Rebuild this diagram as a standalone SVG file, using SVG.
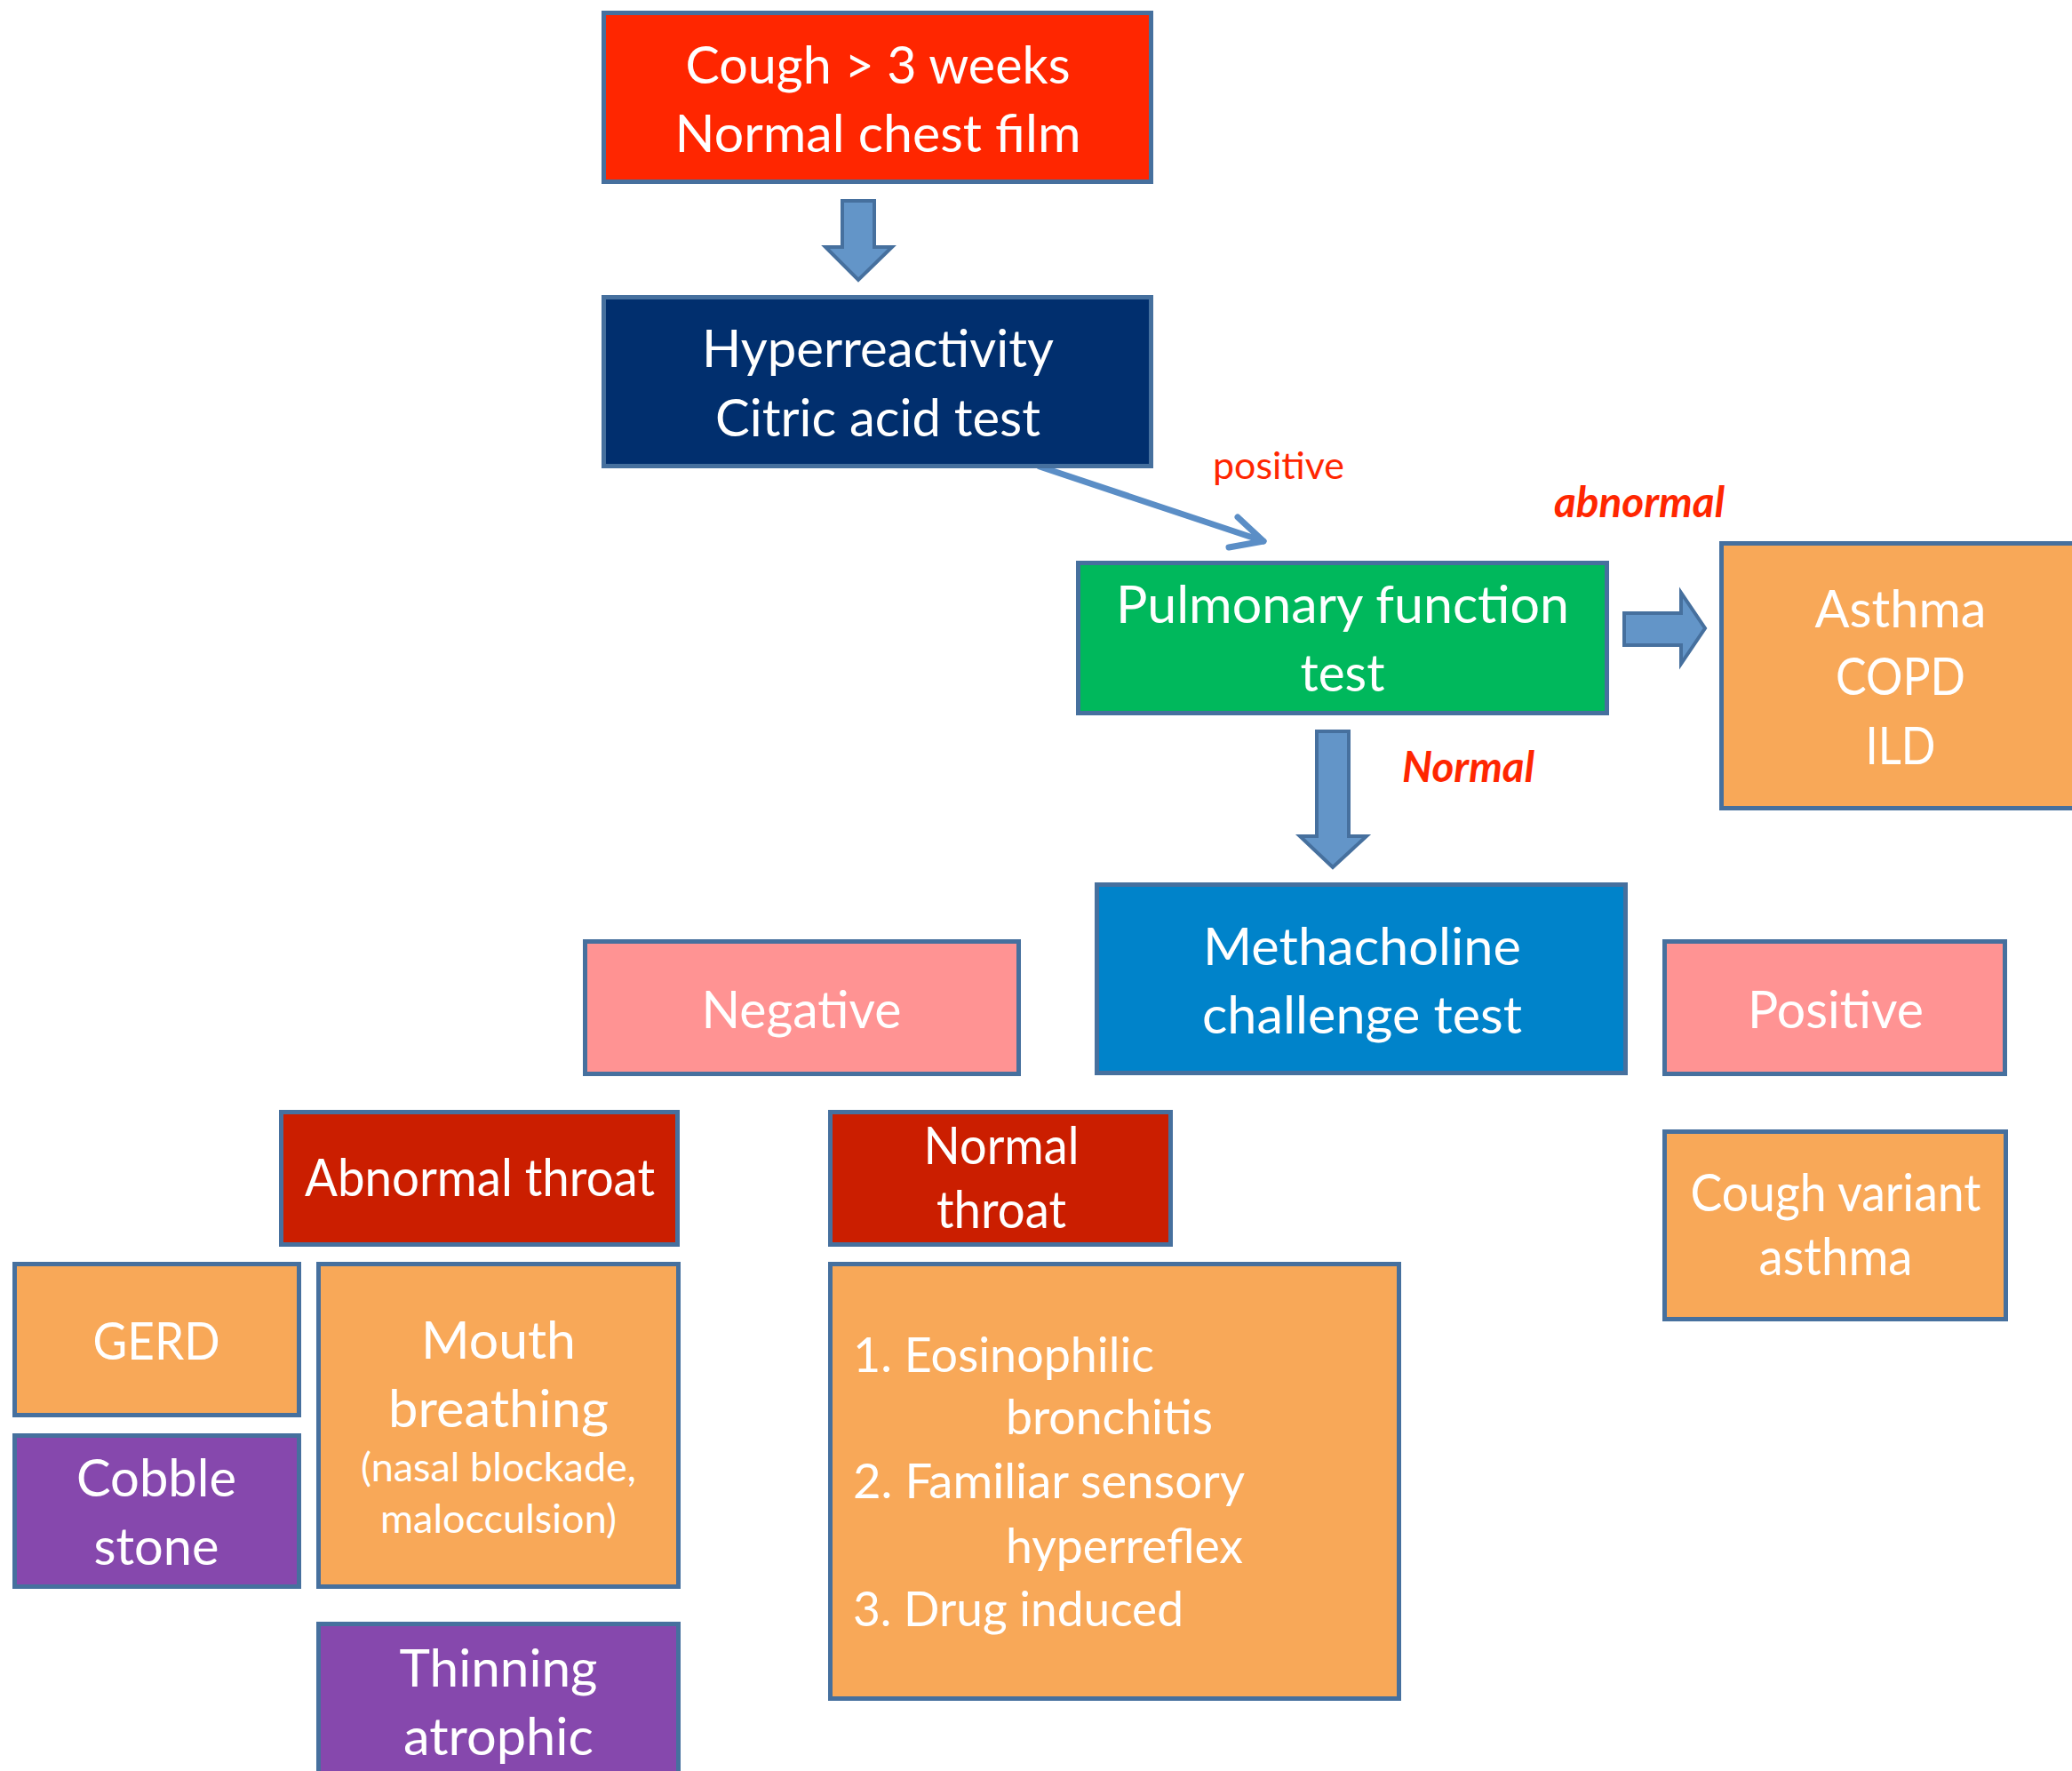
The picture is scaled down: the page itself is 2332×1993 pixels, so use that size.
<svg xmlns="http://www.w3.org/2000/svg" width="2332" height="1993" viewBox="0 0 2332 1993">
<style>
.box{stroke:#46709E;stroke-width:5}
.t{font-family:Lato,"Open Sans","Liberation Sans",sans-serif;fill:#FFFFFF;font-size:58px;text-anchor:middle}
.s{font-size:45px}
.l{font-family:Lato,"Open Sans","Liberation Sans",sans-serif;fill:#FFFFFF;font-size:54.5px}
.lab{font-family:Lato,"Open Sans","Liberation Sans",sans-serif;fill:#FF2600;font-size:43px}
.bi{font-weight:bold;font-style:italic;font-size:47px}
.blk{fill:#6395C8;stroke:#46709E;stroke-width:4;stroke-linejoin:miter}
.red{fill:#FF2600}.navy{fill:#012F6E}.green{fill:#00B85C}.blue{fill:#0083CA}
.pink{fill:#FF9393}.dred{fill:#CB1E00}.orange{fill:#F8A858}.purple{fill:#8648AD}
</style>
<rect width="2332" height="1993" fill="#FFFFFF"/>
<g id="connectors">
  <polygon class="blk" points="948,226 984,226 984,278 1004,278 966,315 929,278 948,278"/>
  <polygon class="blk" points="1482,823 1518,823 1518,941 1538,941 1500,976 1463,941 1482,941"/>
  <polygon class="blk" points="1828,690 1892,690 1892,667 1919,707 1892,747 1892,726 1828,726"/>
  <g fill="none" stroke="#5B8EC6" stroke-width="7" stroke-linecap="round" stroke-linejoin="round">
    <line x1="1170" y1="525" x2="1422" y2="609"/>
    <polyline points="1393,582 1422,609 1383,616"/>
  </g>
  <text class="lab" x="1365" y="539" textLength="148" lengthAdjust="spacingAndGlyphs">positive</text>
  <text class="lab bi" x="1749" y="582" textLength="192" lengthAdjust="spacingAndGlyphs">abnormal</text>
  <text class="lab bi" x="1578" y="880" textLength="149" lengthAdjust="spacingAndGlyphs">Normal</text>
</g>
<g id="cough">
  <rect class="box red" x="679.5" y="14.5" width="616" height="190"/>
  <text class="t" x="988" y="94" textLength="433" lengthAdjust="spacingAndGlyphs">Cough &gt; 3 weeks</text>
  <text class="t" x="988" y="171" textLength="457" lengthAdjust="spacingAndGlyphs">Normal chest film</text>
</g>
<g id="hyper">
  <rect class="box navy" x="679.5" y="334.5" width="616" height="190"/>
  <text class="t" x="988" y="413" textLength="396" lengthAdjust="spacingAndGlyphs">Hyperreactivity</text>
  <text class="t" x="988" y="491" textLength="366" lengthAdjust="spacingAndGlyphs">Citric acid test</text>
</g>
<g id="pft">
  <rect class="box green" x="1213.5" y="633.5" width="595" height="169"/>
  <text class="t" x="1511" y="701" textLength="510" lengthAdjust="spacingAndGlyphs">Pulmonary function</text>
  <text class="t" x="1511" y="778" textLength="95" lengthAdjust="spacingAndGlyphs">test</text>
</g>
<g id="asthma">
  <rect class="box orange" x="1937.5" y="611.5" width="410" height="298"/>
  <text class="t" x="2139" y="706" textLength="193" lengthAdjust="spacingAndGlyphs">Asthma</text>
  <text class="t" x="2139" y="782" textLength="146" lengthAdjust="spacingAndGlyphs">COPD</text>
  <text class="t" x="2139" y="860" textLength="79" lengthAdjust="spacingAndGlyphs">ILD</text>
</g>
<g id="methacholine">
  <rect class="box blue" x="1234.5" y="995.5" width="595" height="212"/>
  <text class="t" x="1533" y="1086" textLength="358" lengthAdjust="spacingAndGlyphs">Methacholine</text>
  <text class="t" x="1533" y="1163" textLength="360" lengthAdjust="spacingAndGlyphs">challenge test</text>
</g>
<g id="positive">
  <rect class="box pink" x="1873.5" y="1059.5" width="383" height="149"/>
  <text class="t" x="2066" y="1157" textLength="198" lengthAdjust="spacingAndGlyphs">Positive</text>
</g>
<g id="negative">
  <rect class="box pink" x="658.5" y="1059.5" width="488" height="149"/>
  <text class="t" x="902" y="1157" textLength="225" lengthAdjust="spacingAndGlyphs">Negative</text>
</g>
<g id="abnormal-throat">
  <rect class="box dred" x="316.5" y="1251.5" width="446" height="149"/>
  <text class="t" x="540" y="1346" textLength="394" lengthAdjust="spacingAndGlyphs">Abnormal throat</text>
</g>
<g id="normal-throat">
  <rect class="box dred" x="934.5" y="1251.5" width="383" height="149"/>
  <text class="t" x="1127" y="1310" textLength="175" lengthAdjust="spacingAndGlyphs">Normal</text>
  <text class="t" x="1127" y="1382" textLength="146" lengthAdjust="spacingAndGlyphs">throat</text>
</g>
<g id="list">
  <rect class="box orange" x="934.5" y="1422.5" width="640" height="489"/>
  <text class="l" x="960" y="1544" textLength="339" lengthAdjust="spacingAndGlyphs">1. Eosinophilic</text>
  <text class="l" x="1132" y="1614" textLength="233" lengthAdjust="spacingAndGlyphs">bronchitis</text>
  <text class="l" x="960" y="1686" textLength="441" lengthAdjust="spacingAndGlyphs">2. Familiar sensory</text>
  <text class="l" x="1132" y="1759" textLength="267" lengthAdjust="spacingAndGlyphs">hyperreflex</text>
  <text class="l" x="960" y="1830" textLength="372" lengthAdjust="spacingAndGlyphs">3. Drug induced</text>
</g>
<g id="cough-variant">
  <rect class="box orange" x="1873.5" y="1273.5" width="384" height="211"/>
  <text class="t" x="2066" y="1363" textLength="327" lengthAdjust="spacingAndGlyphs">Cough variant</text>
  <text class="t" x="2066" y="1435" textLength="173" lengthAdjust="spacingAndGlyphs">asthma</text>
</g>
<g id="gerd">
  <rect class="box orange" x="16.5" y="1422.5" width="320" height="170"/>
  <text class="t" x="176" y="1530" textLength="143" lengthAdjust="spacingAndGlyphs">GERD</text>
</g>
<g id="cobble">
  <rect class="box purple" x="16.5" y="1615.5" width="320" height="170"/>
  <text class="t" x="176" y="1684" textLength="180" lengthAdjust="spacingAndGlyphs">Cobble</text>
  <text class="t" x="176" y="1761" textLength="141" lengthAdjust="spacingAndGlyphs">stone</text>
</g>
<g id="mouth">
  <rect class="box orange" x="358.5" y="1422.5" width="405" height="363"/>
  <text class="t" x="561" y="1529" textLength="174" lengthAdjust="spacingAndGlyphs">Mouth</text>
  <text class="t" x="561" y="1606" textLength="248" lengthAdjust="spacingAndGlyphs">breathing</text>
  <text class="t s" x="561" y="1667" textLength="310" lengthAdjust="spacingAndGlyphs">(nasal blockade,</text>
  <text class="t s" x="561" y="1725" textLength="266" lengthAdjust="spacingAndGlyphs">malocculsion)</text>
</g>
<g id="thinning">
  <rect class="box purple" x="358.5" y="1827.5" width="405" height="180"/>
  <text class="t" x="561" y="1898" textLength="223" lengthAdjust="spacingAndGlyphs">Thinning</text>
  <text class="t" x="561" y="1975" textLength="214" lengthAdjust="spacingAndGlyphs">atrophic</text>
</g>
</svg>
